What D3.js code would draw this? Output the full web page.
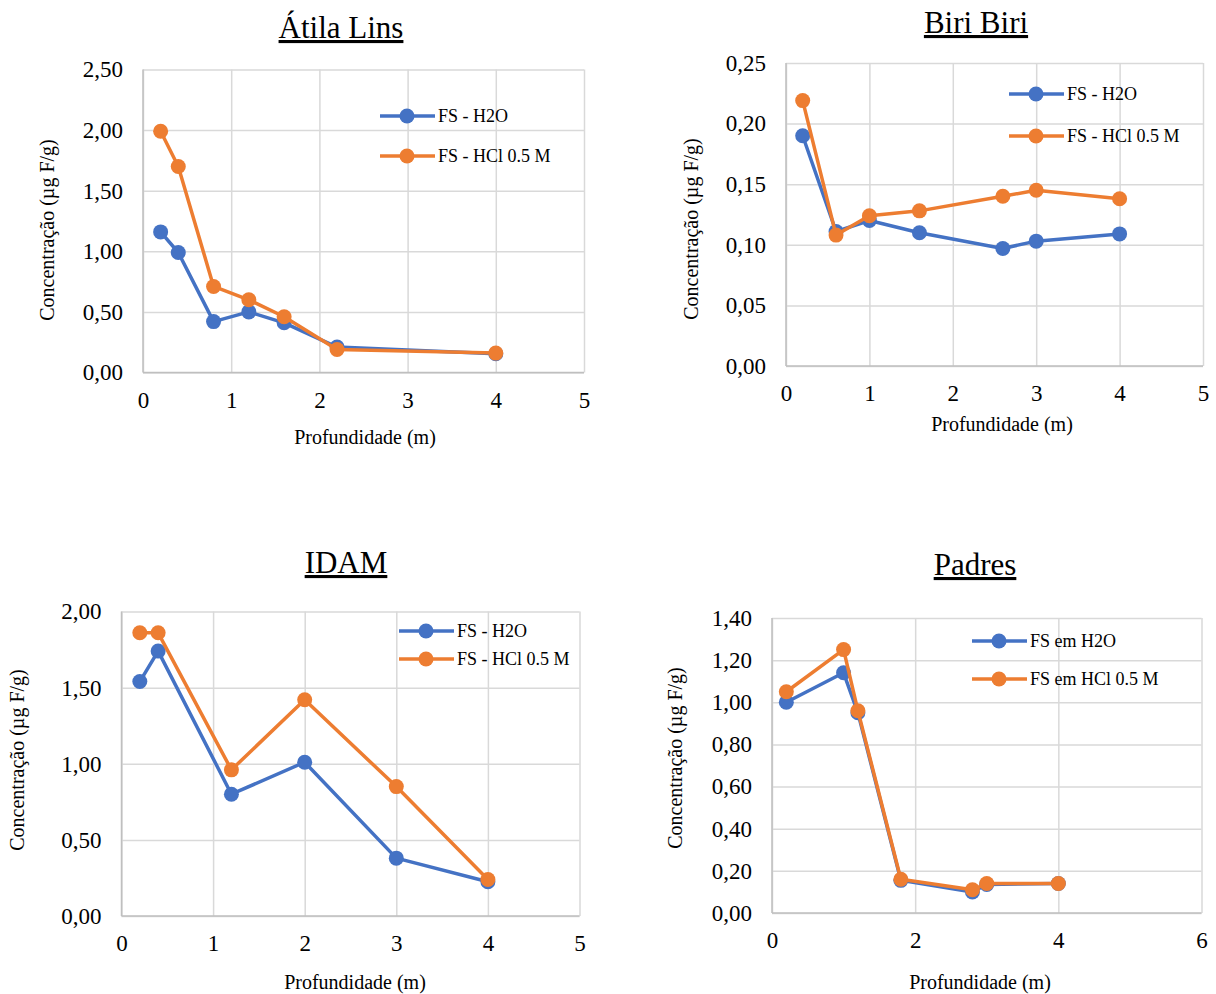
<!DOCTYPE html>
<html lang="pt">
<head>
<meta charset="UTF-8" />
<style>
  body { margin: 0; background: #fff; }
  svg text { font-family: "Liberation Serif", "Times New Roman", serif !important; fill: #000; }
</style>
</head>
<body>
<svg width="1216" height="994"></svg>
<script src="https://d3js.org/d3.v7.min.js"></script>
<script>
// ---- data ----
var atilaDepth = [0.2, 0.4, 0.8, 1.2, 1.6, 2.2, 4.0];
var atilaH2O = [1.16, 0.99, 0.42, 0.50, 0.41, 0.21, 0.155];
var atilaHCl = [1.99, 1.70, 0.71, 0.60, 0.46, 0.19, 0.16];

var biriDepth = [0.2, 0.6, 1.0, 1.6, 2.6, 3.0, 4.0];
var biriH2O = [0.190, 0.111, 0.120, 0.110, 0.097, 0.103, 0.109];
var biriHCl = [0.219, 0.108, 0.124, 0.128, 0.140, 0.145, 0.138];

var idamDepth = [0.2, 0.4, 1.2, 2.0, 3.0, 4.0];
var idamH2O = [1.54, 1.74, 0.80, 1.01, 0.38, 0.225];
var idamHCl = [1.86, 1.86, 0.96, 1.42, 0.85, 0.24];

var padresDepth = [0.2, 1.0, 1.2, 1.8, 2.8, 3.0, 4.0];
var padresH2O = [1.00, 1.14, 0.95, 0.155, 0.10, 0.135, 0.14];
var padresHCl = [1.05, 1.25, 0.96, 0.16, 0.11, 0.14, 0.14];

var titles = ["Átila Lins", "Biri Biri", "IDAM", "Padres"];
var legendA = ["FS - H2O", "FS - HCl 0.5 M"];
var legendB = ["FS em H2O", "FS em HCl 0.5 M"];
var xTitle = "Profundidade (m)";
var yTitle = "Concentração (µg F/g)";

var blue = "#4472C4", orange = "#ED7D31";
var svg = d3.select("svg");
var fmt = function (d) { return d3.format(".2f")(d).replace(".", ","); };

function drawPanel(p) {
  var x = d3.scaleLinear().domain([0, p.xMax]).range([p.left, p.right]);
  var y = d3.scaleLinear().domain([0, p.yMax]).range([p.bottom, p.top]);
  var w = p.right - p.left, h = p.bottom - p.top;
  var g = svg.append("g");

  // grid + tick labels
  var ya = g.append("g").attr("transform", "translate(" + p.left + ",0)")
    .call(d3.axisLeft(y).tickValues(d3.range(0, p.yMax + p.yStep / 2, p.yStep))
      .tickSize(-w).tickPadding(20).tickFormat(fmt));
  var xa = g.append("g").attr("transform", "translate(0," + p.bottom + ")")
    .call(d3.axisBottom(x).tickValues(d3.range(0, p.xMax + 0.5, p.xStep))
      .tickSize(-h).tickPadding(19).tickFormat(d3.format("d")));
  [ya, xa].forEach(function (a) {
    a.attr("font-family", null).attr("font-size", null);
    a.select(".domain").remove();
    a.selectAll("line").attr("stroke", "#d9d9d9").attr("stroke-width", 1.5);
    a.selectAll("text").attr("font-size", 23).attr("font-family", "Liberation Serif");
  });
  g.append("line").attr("x1", p.left).attr("x2", p.left).attr("y1", p.top).attr("y2", p.bottom)
    .attr("stroke", "#bfbfbf").attr("stroke-width", 1.5);
  g.append("line").attr("x1", p.left).attr("x2", p.right).attr("y1", p.bottom).attr("y2", p.bottom)
    .attr("stroke", "#bfbfbf").attr("stroke-width", 1.5);

  // series
  var series = [{ v: p.h2o, c: blue }, { v: p.hcl, c: orange }];
  series.forEach(function (s) {
    var pts = p.depth.map(function (d, i) { return [d, s.v[i]]; });
    g.append("path").datum(pts)
      .attr("fill", "none").attr("stroke", s.c).attr("stroke-width", 3.5)
      .attr("stroke-linejoin", "round")
      .attr("d", d3.line().x(function (d) { return x(d[0]); }).y(function (d) { return y(d[1]); }));
    g.selectAll(null).data(pts).enter().append("circle")
      .attr("cx", function (d) { return x(d[0]); })
      .attr("cy", function (d) { return y(d[1]); })
      .attr("r", 7.5).attr("fill", s.c);
  });

  // title
  g.append("text").attr("x", p.titleX).attr("y", p.titleY)
    .attr("text-anchor", "middle").style("font-size", "31px")
    .style("text-decoration", "underline").text(p.title);

  // axis titles
  g.append("text").attr("x", p.xtX).attr("y", p.xtY).attr("text-anchor", "middle")
    .style("font-size", "20px").text(xTitle);
  g.append("text").attr("transform", "translate(" + p.ytX + "," + p.ytY + ") rotate(-90)")
    .attr("text-anchor", "middle").style("font-size", "20px").text(yTitle);

  // legend
  p.legend.forEach(function (lab, i) {
    var ly = p.legY[i], c = i === 0 ? blue : orange;
    g.append("line").attr("x1", p.legX).attr("x2", p.legX + 55).attr("y1", ly).attr("y2", ly)
      .attr("stroke", c).attr("stroke-width", 3.5);
    g.append("circle").attr("cx", p.legX + 27).attr("cy", ly).attr("r", 7.5).attr("fill", c);
    g.append("text").attr("x", p.legX + 58).attr("y", ly + 6).style("font-size", "18px").text(lab);
  });
}

drawPanel({ title: titles[0], depth: atilaDepth, h2o: atilaH2O, hcl: atilaHCl, legend: legendA,
  left: 143, right: 584, top: 69.5, bottom: 372.5, xMax: 5, xStep: 1, yMax: 2.5, yStep: 0.5,
  titleX: 341, titleY: 38, xtX: 365, xtY: 444, ytX: 54, ytY: 230, legX: 380, legY: [116, 156] });

drawPanel({ title: titles[1], depth: biriDepth, h2o: biriH2O, hcl: biriHCl, legend: legendA,
  left: 786, right: 1203, top: 63, bottom: 366, xMax: 5, xStep: 1, yMax: 0.25, yStep: 0.05,
  titleX: 976, titleY: 33, xtX: 1002, xtY: 431, ytX: 698, ytY: 229, legX: 1009, legY: [94, 136] });

drawPanel({ title: titles[2], depth: idamDepth, h2o: idamH2O, hcl: idamHCl, legend: legendA,
  left: 121.5, right: 579.5, top: 611.5, bottom: 916, xMax: 5, xStep: 1, yMax: 2, yStep: 0.5,
  titleX: 346, titleY: 573, xtX: 355, xtY: 989, ytX: 24, ytY: 760, legX: 399, legY: [631, 659] });

drawPanel({ title: titles[3], depth: padresDepth, h2o: padresH2O, hcl: padresHCl, legend: legendB,
  left: 772, right: 1201.5, top: 618, bottom: 913, xMax: 6, xStep: 2, yMax: 1.4, yStep: 0.2,
  titleX: 975, titleY: 575, xtX: 980, xtY: 989, ytX: 682, ytY: 758, legX: 972, legY: [641, 679] });
</script>
</body>
</html>
